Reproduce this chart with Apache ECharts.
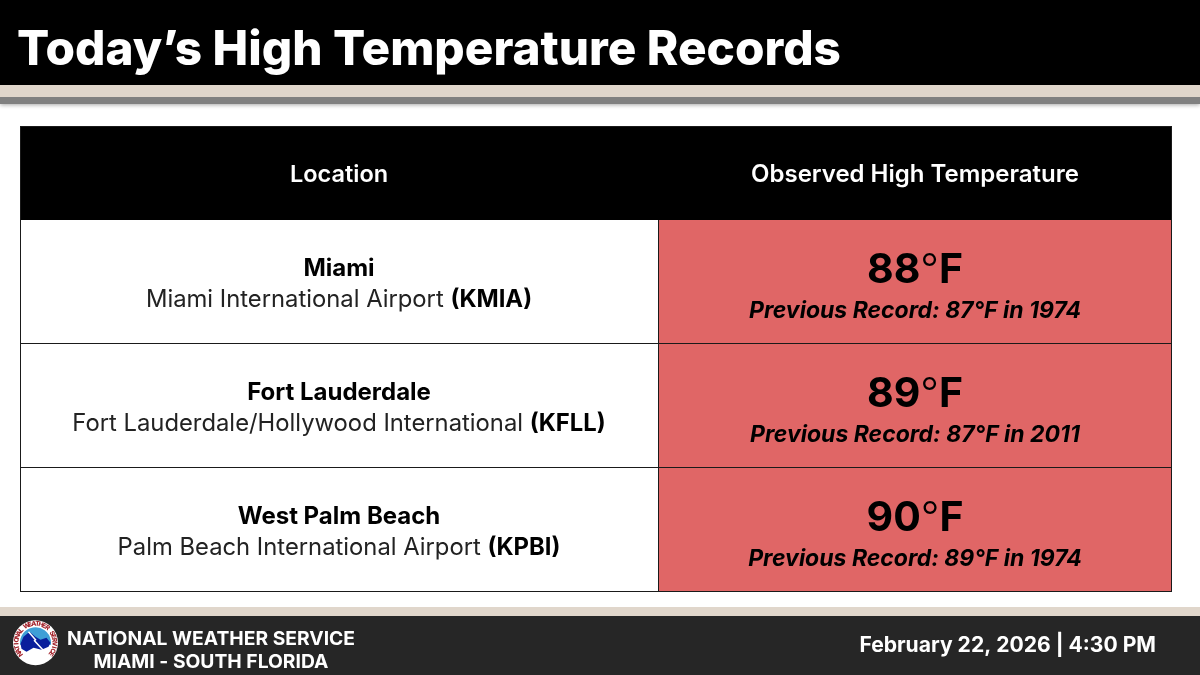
<!DOCTYPE html>
<html>
<head>
<meta charset="utf-8">
<style>
  html, body { margin: 0; padding: 0; background: #fff; }
  #chart { width: 1200px; height: 675px; }
</style>
<script src="https://cdn.jsdelivr.net/npm/echarts@6/dist/echarts.min.js"></script>
</head>
<body>
<div id="chart"></div>
<script>
const titleText = 'Today’s High Temperature Records'
const columns = ['Location', 'Observed High Temperature']
const cities = ['Miami', 'Fort Lauderdale', 'West Palm Beach']
const stations = ['Miami International Airport', 'Fort Lauderdale/Hollywood International', 'Palm Beach International Airport']
const stationIds = ['KMIA', 'KFLL', 'KPBI']
const observed = [88, 89, 90]
const previousValues = [87, 87, 89]
const previousYears = [1974, 2011, 1974]
const footerLines = ['NATIONAL WEATHER SERVICE', 'MIAMI - SOUTH FLORIDA']
const stamp = 'February 22, 2026 | 4:30 PM'
const logoRing = 'NATIONAL WEATHER SERVICE'

const font = 'Inter'
const RED = '#e06666'
const LINE = '#1a1a1a'

// table layout
const tLeft = 20, tMid = 658, tRight = 1172, tTop = 126, headBottom = 220, rowH = 124
const leftC = (tLeft + tMid) / 2
const rightC = (tMid + tRight) / 2

function rect (x, y, width, height, fill, extra) {
  return Object.assign({ type: 'rect', shape: { x, y, width, height }, style: { fill } }, extra)
}
function text (x, y, value, size, weight, fill, extra) {
  return {
    type: 'text', x, y,
    style: Object.assign({
      text: value, fill, align: 'center', verticalAlign: 'middle',
      fontFamily: font, fontSize: size, fontWeight: weight
    }, extra)
  }
}
function line (x1, y1, x2, y2) {
  return { type: 'line', shape: { x1, y1, x2, y2 }, style: { stroke: LINE, lineWidth: 1 }, z: 5 }
}

let els = []
// header band
els.push(rect(0, 97, 1200, 7, '#808080', { style: { fill: '#808080', shadowBlur: 4, shadowColor: 'rgba(0,0,0,0.35)', shadowOffsetY: 1 } }))
els.push(rect(0, 0, 1200, 85, '#000'))
els.push(rect(0, 85, 1200, 12, '#e0d6cb'))
els.push(text(17, 51, titleText, 47.7, 800, '#fff', { align: 'left' }))

// table
els.push(rect(tLeft, tTop, tRight - tLeft, headBottom - tTop, '#000'))
els.push(text(leftC, 175, columns[0], 23.5, 600, '#fff'))
els.push(text(rightC, 175, columns[1], 24, 600, '#fff'))

cities.forEach((city, i) => {
  let y = headBottom + i * rowH
  els.push(rect(tMid, y, tRight - tMid, rowH, RED))
  els.push(text(leftC, y + 49, city, 24, 700, '#000'))
  els.push(text(leftC, y + 80, `{n|${stations[i]} }{b|(${stationIds[i]})}`, 23.8, 400, '#000', {
    rich: {
      n: { fontFamily: font, fontSize: 23.8, fontWeight: 400, fill: '#222' },
      b: { fontFamily: font, fontSize: 23.8, fontWeight: 700, fill: '#000' }
    }
  }))
  els.push(text(rightC, y + 51, `{v|${observed[i]}}{d|°}{v|F}`, 41, 700, '#000', {
    rich: {
      v: { fontFamily: font, fontSize: 41, fontWeight: 700, fill: '#000' },
      d: { fontFamily: font, fontSize: 41, fontWeight: 300, fill: '#000' }
    }
  }))
  els.push(text(rightC, y + 91, `Previous Record: ${previousValues[i]}°F in ${previousYears[i]}`, 23, 700, '#000', { fontStyle: 'italic' }))
})

// grid lines, on the half pixel so they stay one pixel wide
els.push(line(tLeft, tTop + 0.5, tRight, tTop + 0.5))
els.push(line(tLeft + 0.5, tTop, tLeft + 0.5, tTop + 466))
els.push(line(tRight - 0.5, tTop, tRight - 0.5, tTop + 466))
els.push(line(tMid + 0.5, headBottom, tMid + 0.5, tTop + 466))
cities.forEach((c, i) => {
  let y = headBottom + (i + 1) * rowH - 0.5
  els.push(line(tLeft, y, tRight, y))
})

// footer
els.push(rect(0, 607, 1200, 9, '#e0d6cb'))
els.push(rect(0, 616, 1200, 59, '#262626'))
els.push(text(211, 639.5, footerLines[0], 19.3, 700, '#fff'))
els.push(text(211, 662, footerLines[1], 19.3, 700, '#fff'))
els.push(text(1156, 646, stamp, 21.1, 700, '#fff', { align: 'right' }))

// NWS logo
const cx = 35.5, cy = 642.7
const at = pts => pts.map(p => [cx + p[0], cy + p[1]])
els.push({ type: 'circle', shape: { cx, cy, r: 22.5 }, style: { fill: '#fff' } })
els.push({
  type: 'sector',
  shape: { cx, cy, r: 15.5, startAngle: Math.PI * 0.95, endAngle: Math.PI * 2.05 },
  style: { fill: '#3f9fd6' }
})
els.push({
  type: 'polygon',
  shape: { points: at([[-15, 1], [-12, -6], [-6, -11], [0, -6], [5, -3], [11, -5], [15, 0], [13, 4], [6, 7], [-2, 5], [-9, 9], [-14, 6]]) },
  style: { fill: '#0a1f9c' }
})
els.push({
  type: 'polyline',
  shape: { points: at([[-7, -11], [0, -3], [-1, -2], [10, 10]]) },
  style: { stroke: '#fff', lineWidth: 1.5, fill: null }
})
logoRing.split('').forEach((ch, i) => {
  // letters run clockwise round the ring, starting low on the left
  let a = Math.PI * (0.8 + i * 1.4 / (logoRing.length - 1))
  els.push({
    type: 'text',
    x: cx + Math.cos(a) * 19,
    y: cy + Math.sin(a) * 19,
    rotation: -(a + Math.PI / 2),
    style: { text: ch, fill: '#a3242c', fontFamily: font, fontSize: 6.5, fontWeight: 800, align: 'center', verticalAlign: 'middle' }
  })
})

const chart = echarts.init(document.getElementById('chart'), null, { renderer: 'canvas' })
chart.setOption({
  animation: false,
  backgroundColor: '#fff',
  graphic: { elements: els }
})
</script>
</body>
</html>
